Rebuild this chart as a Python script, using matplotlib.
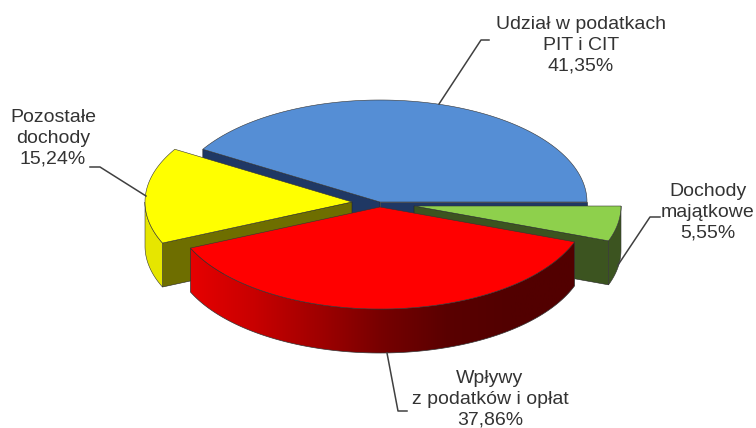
import numpy as np
import matplotlib
matplotlib.use("Agg")
import matplotlib.pyplot as plt
from matplotlib.colors import LinearSegmentedColormap
from matplotlib.patches import Polygon

labels = ["Udział w podatkach\nPIT i CIT\n41,35%", "Dochody\nmajątkowe\n5,55%",
          "Wpływy\nz podatków i opłat\n37,86%", "Pozostałe\ndochody\n15,24%"]
values = [41.35, 5.55, 37.86, 15.24]
top_colors = ["#558ed5", "#8ed04c", "#ff0000", "#ffff00"]
arc_colors = ["#1f3864", "#3c5420", "#5a0000", "#e6e600"]
side_colors = ["#1f3864", "#3c5420", "#5a0000", "#6e6e00"]
# which radial walls of each slice face the viewer
front_walls = [("start", "end"), ("start",), (), ("end",)]
# painting order, the red slice sits in front of the yellow one
layer = [0, 1, 3, 2]

# pixel positions of each exploded slice
centers = [(380, 202), (414, 206), (380, 207), (352, 202)]
label_pos = [(581, 45), (708, 212), (490, 399), (53, 138.5)]
leaders = [[(439, 104), (481, 40), (489, 40)],
           [(618, 265), (650, 217), (660, 217)],
           [(387, 353), (398, 411), (407, 411)],
           [(146, 196), (100, 167), (90, 167)]]
rx, ry, depth = 207, 102, 44
red_stops = ["#e60000", "#c80000", "#a00000", "#760000", "#5a0000", "#520000", "#520000"]


def arc(center, a1, a2, drop=0):
    t = np.radians(np.linspace(a1, a2, 120))
    return np.column_stack([center[0] + rx * np.cos(t), center[1] - ry * np.sin(t) + drop])


def draw_slice(ax, i, a1, a2):
    c = centers[i]
    z = layer[i] * 3
    for side in front_walls[i]:
        s = np.radians(a1 if side == "start" else a2)
        edge = (c[0] + rx * np.cos(s), c[1] - ry * np.sin(s))
        pts = [c, edge, (edge[0], edge[1] + depth), (c[0], c[1] + depth)]
        ax.add_patch(Polygon(pts, fc=side_colors[i], ec="#222222", lw=0.4, zorder=z + 1))
    # outer wall, only the part in the lower half of the ellipse
    lo, hi = max(a1, -180), min(a2, 0)
    if hi > lo:
        wall = np.vstack([arc(c, lo, hi), arc(c, hi, lo, depth)])
        if i == 2:
            patch = Polygon(wall, fc="none", ec="#333333", lw=0.5, zorder=z + 2)
            ax.add_patch(patch)
            cmap = LinearSegmentedColormap.from_list("red_wall", red_stops)
            img = ax.imshow(np.linspace(0, 1, 256).reshape(1, -1), cmap=cmap, aspect="auto",
                            extent=(wall[:, 0].min(), wall[:, 0].max(), 428, 0), zorder=z + 1)
            img.set_clip_path(patch)
        else:
            ax.add_patch(Polygon(wall, fc=arc_colors[i], ec="#333333", lw=0.4, zorder=z + 2))
    # top face
    top = np.vstack([[c], arc(c, a1, a2)])
    ax.add_patch(Polygon(top, fc=top_colors[i], ec="#333333", lw=0.4, zorder=z + 3))


fig = plt.figure(figsize=(7.56, 4.28), dpi=100)
ax = fig.add_axes([0, 0, 1, 1])

end = 360 * values[0] / sum(values)
for i, v in enumerate(values):
    start = end - 360 * v / sum(values)
    draw_slice(ax, i, start, end)
    end = start

ax.set_xlim(0, 756)
ax.set_ylim(428, 0)
ax.axis("off")

for pts in leaders:
    xs, ys = zip(*pts)
    ax.plot(xs, ys, color="#404040", lw=1.1, zorder=20)

for lab, (x, y) in zip(labels, label_pos):
    ax.text(x, y, lab, ha="center", va="center", fontsize=14, family="Liberation Sans",
            color="#333333", linespacing=1.27, zorder=21)

fig.savefig("out.png", dpi=100)
